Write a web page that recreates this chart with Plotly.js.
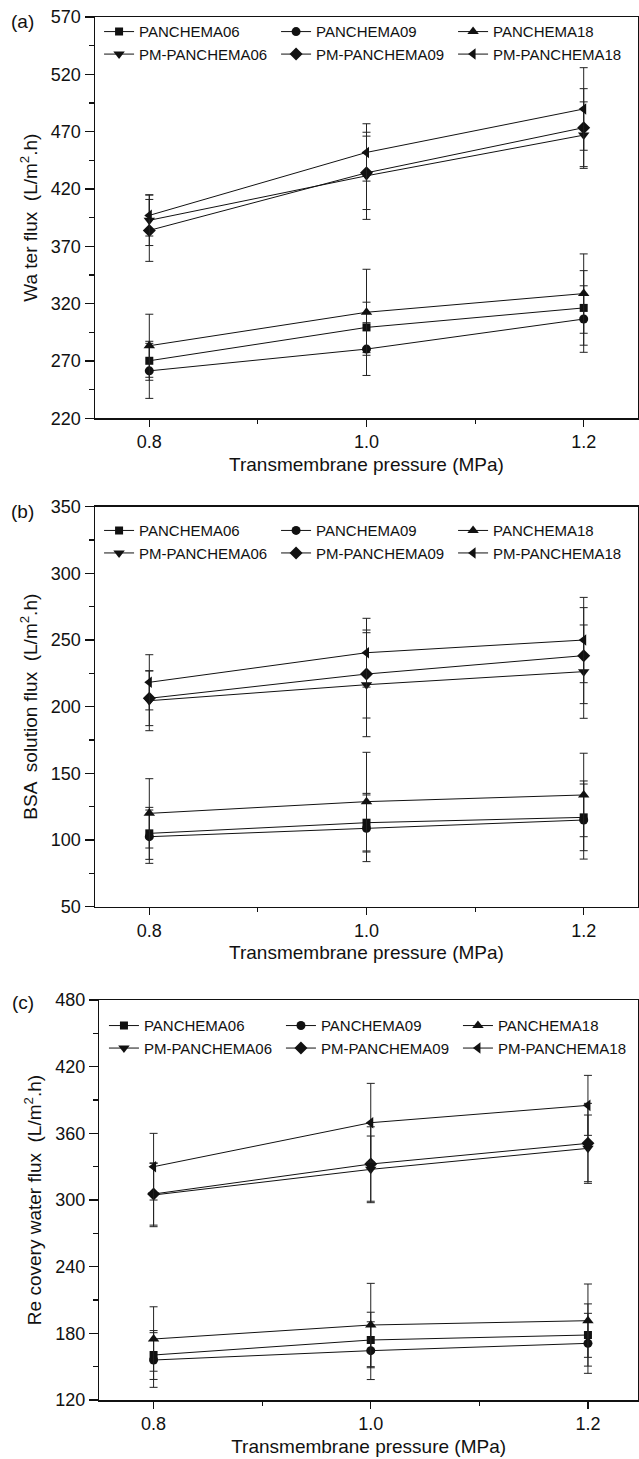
<!DOCTYPE html>
<html>
<head>
<meta charset="utf-8">
<script src="https://cdn.plot.ly/plotly-3.0.1.min.js"></script>
<style>
  html, body { margin: 0; padding: 0; background: #fff; }
  #chart { width: 639px; height: 1459px; }
</style>
</head>
<body>
<div id="chart"></div>
<script>
// ---------- Data ----------
const pressure = [0.8, 1.0, 1.2];
const seriesNames = ['PANCHEMA06', 'PANCHEMA09', 'PANCHEMA18', 'PM-PANCHEMA06', 'PM-PANCHEMA09', 'PM-PANCHEMA18'];
const xTickLabels = ['0.8', '1.0', '1.2'];

// (a) Water flux
const waterP06 = [270.2, 299.3, 316.3];
const waterP09 = [261.4, 280.4, 306.6];
const waterP18 = [283.3, 312.5, 328.8];
const waterPM06 = [392.7, 431.5, 467.0];
const waterPM09 = [383.9, 434.1, 473.5];
const waterPM18 = [397.0, 451.9, 489.8];
const waterP06Err = [17, 22, 32.5];
const waterP09Err = [24, 23, 29];
const waterP18Err = [27.5, 37.5, 34.6];
const waterPM06Err = [22, 38, 29];
const waterPM09Err = [27, 32, 34];
const waterPM18Err = [18, 25, 36];

// (b) BSA solution flux
const bsaP06 = [105.0, 113.0, 117.0];
const bsaP09 = [102.5, 108.8, 115.0];
const bsaP18 = [120.0, 128.8, 133.8];
const bsaPM06 = [204.5, 216.5, 226.3];
const bsaPM09 = [206.3, 224.5, 238.3];
const bsaPM18 = [218.3, 240.5, 250.0];
const bsaP06Err = [19.5, 22, 25];
const bsaP09Err = [20, 25, 29.3];
const bsaP18Err = [26, 37, 31.3];
const bsaPM06Err = [22.5, 39, 35];
const bsaPM09Err = [20.5, 33, 36];
const bsaPM18Err = [20.7, 25.8, 32];

// (c) Recovery water flux
const recP06 = [160.5, 174.0, 178.5];
const recP09 = [156.0, 164.4, 171.0];
const recP18 = [174.9, 187.5, 191.4];
const recPM06 = [304.5, 327.6, 346.5];
const recPM09 = [305.4, 332.4, 351.0];
const recPM18 = [330.0, 369.6, 385.2];
const recP06Err = [22, 25, 28];
const recP09Err = [24.6, 26, 27];
const recP18Err = [29, 37.5, 33];
const recPM06Err = [28.5, 30, 30];
const recPM09Err = [28, 33.5, 36];
const recPM18Err = [30, 35.4, 27];

// ---------- Styles ----------
const FONT = 'Liberation Sans, Arial, Helvetica, sans-serif';
const symbols = ['square', 'circle', 'triangle-up', 'triangle-down', 'diamond', 'triangle-left'];
const sizes = [8, 9, 10, 10, 10, 10];

const panels = [
  { xa: 'x', ya: 'y', leg: 'legend',
    vals: [waterP06, waterP09, waterP18, waterPM06, waterPM09, waterPM18],
    errs: [waterP06Err, waterP09Err, waterP18Err, waterPM06Err, waterPM09Err, waterPM18Err] },
  { xa: 'x2', ya: 'y2', leg: 'legend2',
    vals: [bsaP06, bsaP09, bsaP18, bsaPM06, bsaPM09, bsaPM18],
    errs: [bsaP06Err, bsaP09Err, bsaP18Err, bsaPM06Err, bsaPM09Err, bsaPM18Err] },
  { xa: 'x3', ya: 'y3', leg: 'legend3',
    vals: [recP06, recP09, recP18, recPM06, recPM09, recPM18],
    errs: [recP06Err, recP09Err, recP18Err, recPM06Err, recPM09Err, recPM18Err] }
];

const traces = [];
panels.forEach(p => {
  seriesNames.forEach((name, i) => {
    traces.push({
      type: 'scatter', mode: 'lines+markers',
      x: pressure, y: p.vals[i], name: name,
      xaxis: p.xa, yaxis: p.ya, legend: p.leg, showlegend: true,
      line: { color: '#111', width: 1 },
      marker: { symbol: symbols[i], size: sizes[i], color: '#111' },
      error_y: { type: 'data', array: p.errs[i], visible: true, color: '#222', thickness: 1, width: 4 },
      cliponaxis: false
    });
  });
});

function xAxis(domain, range, anchor) {
  return {
    domain: domain, range: range, anchor: anchor,
    tickmode: 'array', tickvals: pressure, ticktext: xTickLabels,
    ticks: 'outside', ticklen: 7, tickwidth: 1.2, tickcolor: '#111',
    minor: { ticks: 'outside', ticklen: 4, tickwidth: 1.2, tickcolor: '#111', tick0: 0.7, dtick: 0.1 },
    showline: true, linecolor: '#111', linewidth: 1.5, mirror: true,
    showgrid: false, zeroline: false,
    tickfont: { family: FONT, size: 18, color: '#111' },
    title: { text: 'Transmembrane pressure (MPa)', font: { family: FONT, size: 19, color: '#111' }, standoff: 6 }
  };
}
function yAxis(domain, range, dtick, anchor, title) {
  return {
    domain: domain, range: range, anchor: anchor,
    tick0: range[0], dtick: dtick,
    ticks: 'outside', ticklen: 9, tickwidth: 1.2, tickcolor: '#111',
    minor: { ticks: 'outside', ticklen: 5, tickwidth: 1.2, tickcolor: '#111', tick0: range[0], dtick: dtick / 2 },
    showline: true, linecolor: '#111', linewidth: 1.5, mirror: true,
    showgrid: false, zeroline: false,
    tickfont: { family: FONT, size: 18, color: '#111' },
    title: { text: title, font: { family: FONT, size: 19, color: '#111' }, standoff: 8 }
  };
}
function legend(x, y) {
  return {
    orientation: 'h', x: x, y: y, xanchor: 'left', yanchor: 'top',
    xref: 'paper', yref: 'paper',
    entrywidth: 132, entrywidthmode: 'pixels',
    bgcolor: 'rgba(0,0,0,0)', borderwidth: 0,
    font: { family: FONT, size: 15, color: '#111' },
    tracegroupgap: 0
  };
}

const layout = {
  width: 639, height: 1459,
  margin: { l: 95, r: 1, t: 17, b: 59 },
  paper_bgcolor: '#fff', plot_bgcolor: '#fff',
  showlegend: true,
  font: { family: FONT, color: '#111' },
  xaxis: xAxis([0, 1], [0.75, 1.25], 'y'),
  yaxis: yAxis([0.7098, 1], [220, 570], 50, 'x', 'Wa ter flux  (L/m<sup>2</sup>.h)'),
  xaxis2: xAxis([0, 1], [0.75, 1.25], 'y2'),
  yaxis2: yAxis([0.3567, 0.6459], [50, 350], 50, 'x2', 'BSA  solution flux  (L/m<sup>2</sup>.h)'),
  xaxis3: xAxis([0.0079, 1], [0.75, 1.2461], 'y3'),
  yaxis3: yAxis([0, 0.2892], [120, 480], 60, 'x3', 'Re covery water flux  (L/m<sup>2</sup>.h)'),
  legend: legend(0.0075, 1.0012),
  legend2: legend(0.0075, 0.6405),
  legend3: legend(0.0165, 0.2825),
  annotations: [
    { text: '(a)', xref: 'paper', yref: 'paper', x: -0.1326, y: 0.9964, xanchor: 'center', yanchor: 'middle', showarrow: false, font: { family: FONT, size: 19, color: '#111' } },
    { text: '(b)', xref: 'paper', yref: 'paper', x: -0.1326, y: 0.6423, xanchor: 'center', yanchor: 'middle', showarrow: false, font: { family: FONT, size: 19, color: '#111' } },
    { text: '(c)', xref: 'paper', yref: 'paper', x: -0.1326, y: 0.2873, xanchor: 'center', yanchor: 'middle', showarrow: false, font: { family: FONT, size: 19, color: '#111' } }
  ]
};

Plotly.newPlot('chart', traces, layout, { staticPlot: true, displayModeBar: false });
</script>
</body>
</html>
